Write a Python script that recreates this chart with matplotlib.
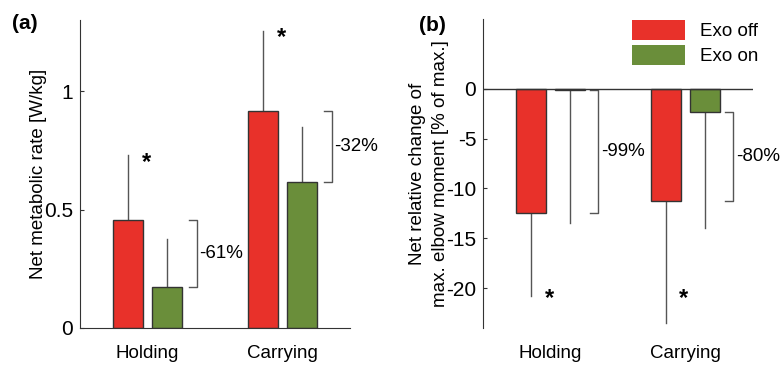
import matplotlib

matplotlib.use("Agg")
import matplotlib.pyplot as plt
from matplotlib.patches import Patch

plt.rcParams["font.family"] = ["Liberation Sans", "DejaVu Sans"]
plt.rcParams["font.size"] = 13.5
plt.rcParams["axes.unicode_minus"] = False

# ── 数据 ──
categories = ["Holding", "Carrying"]
conditions = ["Exo off", "Exo on"]

metab_off = [0.455, 0.916]
metab_on = [0.174, 0.617]
metab_off_sd = [0.275, 0.339]
metab_on_sd = [0.202, 0.230]
metab_change = ["-61%", "-32%"]

moment_off = [-12.44, -11.30]
moment_on = [-0.1, -2.34]
moment_off_sd = [8.36, 12.20]
moment_on_sd = [13.37, 11.66]
moment_change = ["-99%", "-80%"]

RED = "#E8312A"
GREEN = "#6A8E3A"
EDGE = "#333333"
ERR = "#555555"

x = [1, 2]
off_x = [c - 0.145 for c in x]
on_x = [c + 0.145 for c in x]
width = 0.225

fig = plt.figure(figsize=(7.82, 3.67), dpi=100)
ax_a = fig.add_axes([0.1023, 0.1063, 0.3453, 0.8392])
ax_b = fig.add_axes([0.618, 0.1063, 0.3445, 0.8420])


def draw_bars(ax, off, on, off_sd, on_sd):
    ax.bar(off_x, off, width, color=RED, edgecolor=EDGE, linewidth=1.0, zorder=2)
    ax.bar(on_x, on, width, color=GREEN, edgecolor=EDGE, linewidth=1.0, zorder=2)
    # 单侧误差线（朝远离零的方向）
    for xs, vals, sds in ((off_x, off, off_sd), (on_x, on, on_sd)):
        for xi, v, s in zip(xs, vals, sds):
            end = v + s if v >= 0 else v - s
            ax.plot([xi, xi], [v, end], color=ERR, linewidth=1.0, zorder=1)


def draw_bracket(ax, xpos, y1, y2, text, tick=0.06):
    ax.plot([xpos - tick, xpos, xpos, xpos - tick], [y1, y1, y2, y2],
            color=ERR, linewidth=1.0, clip_on=False)
    ax.text(xpos + 0.02, (y1 + y2) / 2, text, ha="left", va="center",
            fontsize=13.5, clip_on=False)


# ── (a) 净代谢率 ──
draw_bars(ax_a, metab_off, metab_on, metab_off_sd, metab_on_sd)
ax_a.set_xlim(0.5, 2.5)
ax_a.set_ylim(0, 1.3)
ax_a.set_yticks([0, 0.5, 1])
ax_a.set_yticklabels(["0", "0.5", "1"])
ax_a.set_ylabel("Net metabolic rate [W/kg]", labelpad=-2)
for i in range(2):
    draw_bracket(ax_a, x[i] + 0.365, metab_off[i], metab_on[i], metab_change[i])
    ax_a.text(x[i] - 0.005, metab_off[i] + metab_off_sd[i] - 0.03, "*",
              ha="center", va="center", fontsize=17, fontweight="bold")
ax_a.text(-0.25, 0.99, "(a)", transform=ax_a.transAxes, fontsize=15,
          fontweight="bold", ha="left", va="center")

# ── (b) 肘关节力矩相对变化 ──
draw_bars(ax_b, moment_off, moment_on, moment_off_sd, moment_on_sd)
ax_b.axhline(0, color=EDGE, linewidth=1.0, zorder=3)
ax_b.set_xlim(0.5, 2.5)
ax_b.set_ylim(-24, 7)
ax_b.set_yticks([-20, -15, -10, -5, 0])
ax_b.set_ylabel("Net relative change of\nmax. elbow moment [% of max.]",
                labelpad=-2, linespacing=1.45)
ax_b.spines["bottom"].set_visible(False)
for i in range(2):
    draw_bracket(ax_b, x[i] + 0.355, moment_off[i], moment_on[i], moment_change[i])
    ax_b.text(x[i] - 0.01, -21.0, "*", ha="center", va="center",
              fontsize=17, fontweight="bold")
ax_b.text(-0.24, 0.98, "(b)", transform=ax_b.transAxes, fontsize=15,
          fontweight="bold", ha="left", va="center")

handles = [Patch(facecolor=RED, edgecolor="none"),
           Patch(facecolor=GREEN, edgecolor="none")]
ax_b.legend(handles, conditions, loc="upper left",
            bbox_to_anchor=(632 / 782, 1 - 20 / 367), bbox_transform=fig.transFigure,
            frameon=False, fontsize=13.5, handlelength=2.85, handleheight=1.25,
            handletextpad=0.75, labelspacing=0.25, borderpad=0, borderaxespad=0)

for ax in (ax_a, ax_b):
    ax.set_xticks(x)
    ax.set_xticklabels(categories)
    ax.spines["top"].set_visible(False)
    ax.spines["right"].set_visible(False)
    ax.spines["left"].set_color(EDGE)
    ax.spines["bottom"].set_color(EDGE)
    ax.tick_params(axis="x", length=0, pad=12)
ax_a.tick_params(axis="y", direction="in", length=3, color=EDGE, pad=5,
                 labelsize=15)
ax_b.tick_params(axis="y", direction="in", length=3, color=EDGE, pad=5,
                 labelsize=15)

fig.savefig("out.png", dpi=100)
